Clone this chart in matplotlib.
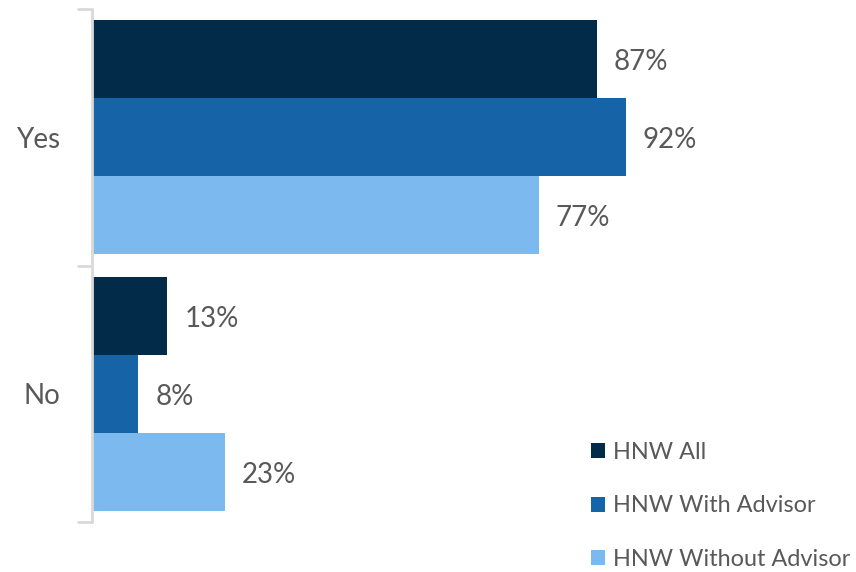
import numpy as np
import matplotlib.pyplot as plt
from matplotlib.patches import Patch

plt.rcParams['font.family'] = ['Lato', 'DejaVu Sans']

categories = ['No', 'Yes']
series_names = ['HNW All', 'HNW With Advisor', 'HNW Without Advisor']
hnw_all = [13, 87]
hnw_with_advisor = [8, 92]
hnw_without_advisor = [23, 77]
colors = ['#022b4a', '#1664a7', '#7cb9ee']

values = [hnw_all, hnw_with_advisor, hnw_without_advisor]
text_color = '#595959'

fig = plt.figure(figsize=(8.56, 5.72), dpi=100)
ax = fig.add_axes([92 / 856, 1 - 522 / 572, 580 / 856, 513 / 572])

y = np.arange(len(categories))
h = 0.304
offsets = [h, 0, -h]

for vals, off, col in zip(values, offsets, colors):
    bars = ax.barh(y + off, vals, height=h, color=col, edgecolor='none')
    for b, v in zip(bars, vals):
        ax.text(b.get_width() + 2.9, b.get_y() + h / 2 - 0.012, f'{v}%',
                va='center', ha='left', fontsize=20, color=text_color)

ax.set_xlim(0, 100)
ax.set_ylim(-0.5, 1.5)
# major ticks draw the group separators, minor ticks carry the labels
ax.set_yticks([-0.5, 0.5, 1.5], minor=False)
ax.set_yticklabels([])
ax.set_yticks(y, minor=True)
ax.set_yticklabels(categories, minor=True)
ax.tick_params(axis='y', which='major', length=11, width=2, color='#d9d9d9')
ax.tick_params(axis='y', which='minor', length=0, pad=23, labelsize=20,
               labelcolor=text_color)
ax.set_xticks([])
for s in ['top', 'right', 'bottom']:
    ax.spines[s].set_visible(False)
ax.spines['left'].set_color('#d9d9d9')
ax.spines['left'].set_linewidth(2)

handles = [Patch(facecolor=c, edgecolor='none') for c in colors]
leg = fig.legend(handles, series_names, loc='upper left',
                 bbox_to_anchor=(591 / 856, 1 - 442 / 572),
                 frameon=False, fontsize=16.9, handlelength=0.6,
                 handleheight=0.6, handletextpad=0.32, labelspacing=1.38,
                 borderpad=0, borderaxespad=0)
for t in leg.get_texts():
    t.set_color(text_color)

fig.savefig('out.png', dpi=100)
